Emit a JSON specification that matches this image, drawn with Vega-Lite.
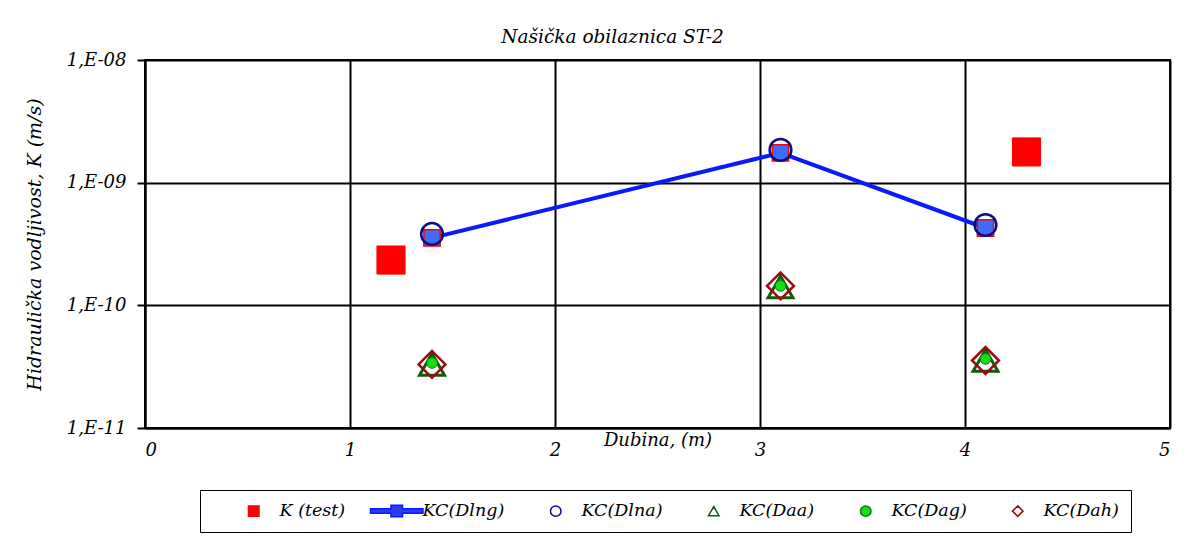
{
  "$schema": "https://vega.github.io/schema/vega-lite/v6.json",
  "width": 1025,
  "height": 368,
  "autosize": "none",
  "padding": {"left": 145, "top": 60, "right": 25, "bottom": 108},
  "background": "white",
  "config": {
    "font": "DejaVu Serif",
    "view": {"stroke": "black", "strokeWidth": 2},
    "axis": {"labelFont": "DejaVu Serif", "labelFontStyle": "italic", "labelFontSize": 18, "labelColor": "black", "titleFont": "DejaVu Serif", "titleFontStyle": "italic", "titleFontWeight": "normal", "titleFontSize": 18, "titleColor": "black", "gridColor": "black", "gridWidth": 2, "gridOpacity": 1, "domainColor": "black", "domainWidth": 2, "tickColor": "black", "tickWidth": 2}
  },
  "title": {"text": "Našička obilaznica ST-2", "font": "DejaVu Serif", "fontStyle": "italic", "fontWeight": "normal", "fontSize": 18.5, "color": "black", "anchor": "middle", "offset": 5, "dx": -45, "frame": "group"},
  "data": {
    "values": [
      {"series": "K (test)", "depth": 1.2, "K": 2.34e-10},
      {"series": "K (test)", "depth": 4.3, "K": 1.78e-9},
      {"series": "KC(Dlng)", "depth": 1.4, "K": 3.55e-10},
      {"series": "KC(Dlng)", "depth": 3.1, "K": 1.75e-9},
      {"series": "KC(Dlng)", "depth": 4.1, "K": 4.27e-10},
      {"series": "KC(Dlna)", "depth": 1.4, "K": 3.82e-10},
      {"series": "KC(Dlna)", "depth": 3.1, "K": 1.85e-9},
      {"series": "KC(Dlna)", "depth": 4.1, "K": 4.52e-10},
      {"series": "KC(Daa)", "depth": 1.4, "K": 3.3e-11},
      {"series": "KC(Daa)", "depth": 3.1, "K": 1.41e-10},
      {"series": "KC(Daa)", "depth": 4.1, "K": 3.55e-11},
      {"series": "KC(Dag)", "depth": 1.4, "K": 3.39e-11},
      {"series": "KC(Dag)", "depth": 3.1, "K": 1.44e-10},
      {"series": "KC(Dag)", "depth": 4.1, "K": 3.66e-11},
      {"series": "KC(Dah)", "depth": 1.4, "K": 3.3e-11},
      {"series": "KC(Dah)", "depth": 3.1, "K": 1.44e-10},
      {"series": "KC(Dah)", "depth": 4.1, "K": 3.55e-11}
    ]
  },
  "encoding": {
    "x": {"field": "depth", "type": "quantitative", "scale": {"domain": [0, 5], "nice": false, "zero": false},
      "axis": {"values": [0, 1, 2, 3, 4, 5], "title": "Dubina, (m)", "titleY": 12, "titleBaseline": "middle", "labelPadding": 13, "tickSize": 0, "grid": true}},
    "y": {"field": "K", "type": "quantitative", "scale": {"type": "log", "domain": [1e-11, 1e-8], "nice": false},
      "axis": {"values": [1e-11, 1e-10, 1e-9, 1e-8], "labelExpr": "'1,E-' + format(round(-log(datum.value)/LN10), '02d')", "title": "Hidraulička vodljivost,  K (m/s)", "titleFontSize": 19, "titlePadding": 22, "tickSize": 8, "labelPadding": 11, "grid": true}},
    "shape": {"field": "series", "type": "nominal",
      "scale": {"domain": ["K (test)", "KC(Dlng)", "KC(Dlna)", "KC(Daa)", "KC(Dag)", "KC(Dah)"],
        "range": ["square", "M-5,-0.45H-1.1V-1.1H1.1V-0.45H5V0.45H1.1V1.1H-1.1V0.45H-5Z", "circle", "triangle-up", "circle", "diamond"]},
      "legend": {"title": null, "orient": "none", "legendX": 55, "legendY": 430, "direction": "horizontal", "strokeColor": "black", "padding": 12, "columnPadding": 9, "symbolSize": 110, "symbolStrokeWidth": 1.5, "labelFont": "DejaVu Serif", "labelFontStyle": "italic", "labelFontSize": 17.5, "labelColor": "black", "symbolOffset": 33, "labelOffset": 17, "symbolOpacity": 1}},
    "fill": {"field": "series", "type": "nominal",
      "scale": {"domain": ["K (test)", "KC(Dlng)", "KC(Dlna)", "KC(Daa)", "KC(Dag)", "KC(Dah)"],
        "range": ["#ff0000", "#2a3cf8", "transparent", "transparent", "#11e011", "transparent"]}},
    "stroke": {"field": "series", "type": "nominal",
      "scale": {"domain": ["K (test)", "KC(Dlng)", "KC(Dlna)", "KC(Daa)", "KC(Dag)", "KC(Dah)"],
        "range": ["#ff0000", "#0a1aff", "#0c0c80", "#0f5a0f", "#0f7a0f", "#9a0d0d"]}}
  },
  "layer": [
    {
      "transform": [{"filter": "datum.series === 'K (test)'"}],
      "mark": {"type": "point", "size": 790, "strokeWidth": 1, "opacity": 1}
    },
    {
      "transform": [{"filter": "datum.series === 'KC(Dlng)'"}],
      "mark": {"type": "line", "color": "#0a1aff", "strokeWidth": 4},
      "encoding": {"shape": null, "fill": null, "stroke": null}
    },
    {
      "transform": [{"filter": "datum.series === 'KC(Dlng)'"}],
      "mark": {"type": "point", "size": 265, "strokeWidth": 1.5, "opacity": 1},
      "encoding": {"stroke": {"value": "#ff0000"}, "fill": {"value": "#3f6cf5"}, "shape": {"value": "square"}}
    },
    {
      "transform": [{"filter": "datum.series === 'KC(Dlna)'"}],
      "mark": {"type": "point", "size": 470, "strokeWidth": 2.5, "opacity": 1}
    },
    {
      "transform": [{"filter": "datum.series === 'KC(Daa)'"}],
      "mark": {"type": "point", "size": 620, "strokeWidth": 3, "opacity": 1}
    },
    {
      "transform": [{"filter": "datum.series === 'KC(Dag)'"}],
      "mark": {"type": "point", "size": 115, "strokeWidth": 1, "opacity": 1}
    },
    {
      "transform": [{"filter": "datum.series === 'KC(Dah)'"}],
      "mark": {"type": "point", "size": 720, "strokeWidth": 2.5, "opacity": 1}
    }
  ]
}
